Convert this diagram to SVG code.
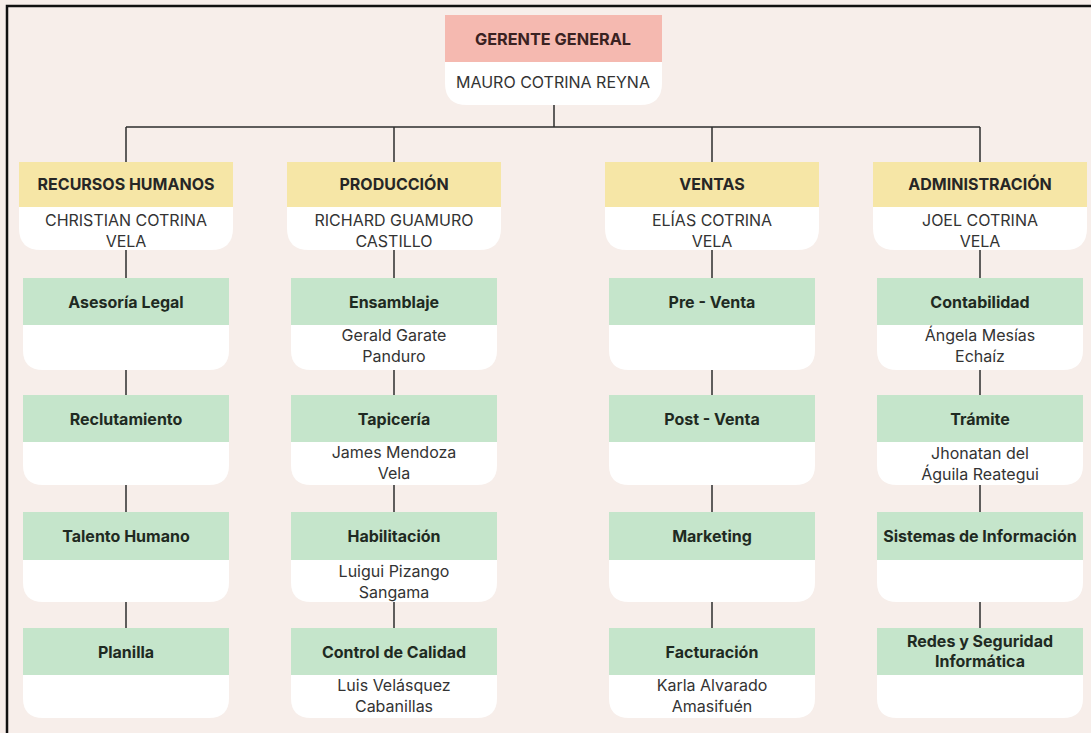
<svg xmlns="http://www.w3.org/2000/svg" width="1091" height="733" viewBox="0 0 1091 733">
  <defs>
    <style>
      .bg { fill: #f7eeea; }
      .frame { fill: none; stroke: #111; stroke-width: 2.5; }
      .card { fill: #ffffff; }
      .top { fill: #f5b9b0; }
      .dept { fill: #f6e6a6; }
      .unit { fill: #c5e5cb; }
      .wire { fill: none; stroke: #2e2e2e; stroke-width: 1.5; }
      text { font-family: Inter, "Noto Sans", "Liberation Sans", sans-serif; text-anchor: middle; fill: #2b2b2b; }
      .h { font-weight: 700; font-size: 16px; fill: #262626; }
      .h0 { font-weight: 700; font-size: 16.3px; fill: #3a2222; }
      .n { font-size: 16px; fill: #333; }
      .n0 { font-size: 16px; fill: #333; }
      .u { font-weight: 700; font-size: 16px; fill: #1f2a22; }
    </style>
  </defs>

  <rect class="bg" x="0" y="0" width="1091" height="733"/>
  <path class="frame" d="M7,733 V6 H1091"/>

  <!-- connectors -->
  <g id="connectors">
    <path class="wire" d="M554,104 V127 M126,127 H980 M126,127 V162 M394,127 V162 M712,127 V162 M980,127 V162"/>
    <path class="wire" d="M126,249 V278 M126,368 V395 M126,483 V512 M126,600 V628"/>
    <path class="wire" d="M394,249 V278 M394,366 V395 M394,483 V512 M394,599 V628"/>
    <path class="wire" d="M712,249 V278 M712,368 V395 M712,483 V512 M712,600 V628"/>
    <path class="wire" d="M980,249 V278 M980,366 V395 M980,484 V512 M980,600 V628"/>
  </g>

  <!-- general manager -->
  <g id="gerente-general">
    <path class="card" d="M445,15 H662 V83 Q662,105 640,105 H467 Q445,105 445,83 Z"/>
    <rect class="top" x="445" y="15" width="217" height="47"/>
    <text class="h0" x="553" y="45">GERENTE GENERAL</text>
    <text class="n0" x="553" y="88">MAURO COTRINA REYNA</text>
  </g>

  <!-- departments -->
  <g id="recursos-humanos">
    <path class="card" d="M19,162 H233 V228 Q233,250 211,250 H41 Q19,250 19,228 Z"/>
    <rect class="dept" x="19" y="162" width="214" height="45"/>
    <text class="h" x="126" y="190">RECURSOS HUMANOS</text>
    <text class="n" x="126" y="226">CHRISTIAN COTRINA</text>
    <text class="n" x="126" y="247">VELA</text>
  </g>
  <g id="produccion">
    <path class="card" d="M287,162 H501 V228 Q501,250 479,250 H309 Q287,250 287,228 Z"/>
    <rect class="dept" x="287" y="162" width="214" height="45"/>
    <text class="h" x="394" y="190">PRODUCCIÓN</text>
    <text class="n" x="394" y="226">RICHARD GUAMURO</text>
    <text class="n" x="394" y="247">CASTILLO</text>
  </g>
  <g id="ventas">
    <path class="card" d="M605,162 H819 V228 Q819,250 797,250 H627 Q605,250 605,228 Z"/>
    <rect class="dept" x="605" y="162" width="214" height="45"/>
    <text class="h" x="712" y="190">VENTAS</text>
    <text class="n" x="712" y="226">ELÍAS COTRINA</text>
    <text class="n" x="712" y="247">VELA</text>
  </g>
  <g id="administracion">
    <path class="card" d="M873,162 H1087 V228 Q1087,250 1065,250 H895 Q873,250 873,228 Z"/>
    <rect class="dept" x="873" y="162" width="214" height="45"/>
    <text class="h" x="980" y="190">ADMINISTRACIÓN</text>
    <text class="n" x="980" y="226">JOEL COTRINA</text>
    <text class="n" x="980" y="247">VELA</text>
  </g>

  <!-- recursos humanos units -->
  <g id="asesoria-legal">
    <path class="card" d="M23,278 H229 V350 Q229,370 209,370 H43 Q23,370 23,350 Z"/>
    <rect class="unit" x="23" y="278" width="206" height="47"/>
    <text class="u" x="126" y="308">Asesoría Legal</text>
  </g>
  <g id="reclutamiento">
    <path class="card" d="M23,395 H229 V465 Q229,485 209,485 H43 Q23,485 23,465 Z"/>
    <rect class="unit" x="23" y="395" width="206" height="47"/>
    <text class="u" x="126" y="425">Reclutamiento</text>
  </g>
  <g id="talento-humano">
    <path class="card" d="M23,512 H229 V582 Q229,602 209,602 H43 Q23,602 23,582 Z"/>
    <rect class="unit" x="23" y="512" width="206" height="48"/>
    <text class="u" x="126" y="542">Talento Humano</text>
  </g>
  <g id="planilla">
    <path class="card" d="M23,628 H229 V698 Q229,718 209,718 H43 Q23,718 23,698 Z"/>
    <rect class="unit" x="23" y="628" width="206" height="47"/>
    <text class="u" x="126" y="658">Planilla</text>
  </g>

  <!-- produccion units -->
  <g id="ensamblaje">
    <path class="card" d="M291,278 H497 V350 Q497,370 477,370 H311 Q291,370 291,350 Z"/>
    <rect class="unit" x="291" y="278" width="206" height="47"/>
    <text class="u" x="394" y="308">Ensamblaje</text>
    <text class="n" x="394" y="341">Gerald Garate</text>
    <text class="n" x="394" y="362">Panduro</text>
  </g>
  <g id="tapiceria">
    <path class="card" d="M291,395 H497 V465 Q497,485 477,485 H311 Q291,485 291,465 Z"/>
    <rect class="unit" x="291" y="395" width="206" height="47"/>
    <text class="u" x="394" y="425">Tapicería</text>
    <text class="n" x="394" y="458">James Mendoza</text>
    <text class="n" x="394" y="479">Vela</text>
  </g>
  <g id="habilitacion">
    <path class="card" d="M291,512 H497 V582 Q497,602 477,602 H311 Q291,602 291,582 Z"/>
    <rect class="unit" x="291" y="512" width="206" height="48"/>
    <text class="u" x="394" y="542">Habilitación</text>
    <text class="n" x="394" y="577">Luigui Pizango</text>
    <text class="n" x="394" y="598">Sangama</text>
  </g>
  <g id="control-de-calidad">
    <path class="card" d="M291,628 H497 V698 Q497,718 477,718 H311 Q291,718 291,698 Z"/>
    <rect class="unit" x="291" y="628" width="206" height="47"/>
    <text class="u" x="394" y="658">Control de Calidad</text>
    <text class="n" x="394" y="691">Luis Velásquez</text>
    <text class="n" x="394" y="712">Cabanillas</text>
  </g>

  <!-- ventas units -->
  <g id="pre-venta">
    <path class="card" d="M609,278 H815 V350 Q815,370 795,370 H629 Q609,370 609,350 Z"/>
    <rect class="unit" x="609" y="278" width="206" height="47"/>
    <text class="u" x="712" y="308">Pre - Venta</text>
  </g>
  <g id="post-venta">
    <path class="card" d="M609,395 H815 V465 Q815,485 795,485 H629 Q609,485 609,465 Z"/>
    <rect class="unit" x="609" y="395" width="206" height="47"/>
    <text class="u" x="712" y="425">Post - Venta</text>
  </g>
  <g id="marketing">
    <path class="card" d="M609,512 H815 V582 Q815,602 795,602 H629 Q609,602 609,582 Z"/>
    <rect class="unit" x="609" y="512" width="206" height="48"/>
    <text class="u" x="712" y="542">Marketing</text>
  </g>
  <g id="facturacion">
    <path class="card" d="M609,628 H815 V698 Q815,718 795,718 H629 Q609,718 609,698 Z"/>
    <rect class="unit" x="609" y="628" width="206" height="47"/>
    <text class="u" x="712" y="658">Facturación</text>
    <text class="n" x="712" y="691">Karla Alvarado</text>
    <text class="n" x="712" y="712">Amasifuén</text>
  </g>

  <!-- administracion units -->
  <g id="contabilidad">
    <path class="card" d="M877,278 H1083 V350 Q1083,370 1063,370 H897 Q877,370 877,350 Z"/>
    <rect class="unit" x="877" y="278" width="206" height="47"/>
    <text class="u" x="980" y="308">Contabilidad</text>
    <text class="n" x="980" y="341">Ángela Mesías</text>
    <text class="n" x="980" y="362">Echaíz</text>
  </g>
  <g id="tramite">
    <path class="card" d="M877,395 H1083 V465 Q1083,485 1063,485 H897 Q877,485 877,465 Z"/>
    <rect class="unit" x="877" y="395" width="206" height="47"/>
    <text class="u" x="980" y="425">Trámite</text>
    <text class="n" x="980" y="459">Jhonatan del</text>
    <text class="n" x="980" y="480">Águila Reategui</text>
  </g>
  <g id="sistemas-de-informacion">
    <path class="card" d="M877,512 H1083 V582 Q1083,602 1063,602 H897 Q877,602 877,582 Z"/>
    <rect class="unit" x="877" y="512" width="206" height="48"/>
    <text class="u" x="980" y="542">Sistemas de Información</text>
  </g>
  <g id="redes-y-seguridad">
    <path class="card" d="M877,628 H1083 V698 Q1083,718 1063,718 H897 Q877,718 877,698 Z"/>
    <rect class="unit" x="877" y="628" width="206" height="47"/>
    <text class="u" x="980" y="647">Redes y Seguridad</text>
    <text class="u" x="980" y="667">Informática</text>
  </g>
</svg>
